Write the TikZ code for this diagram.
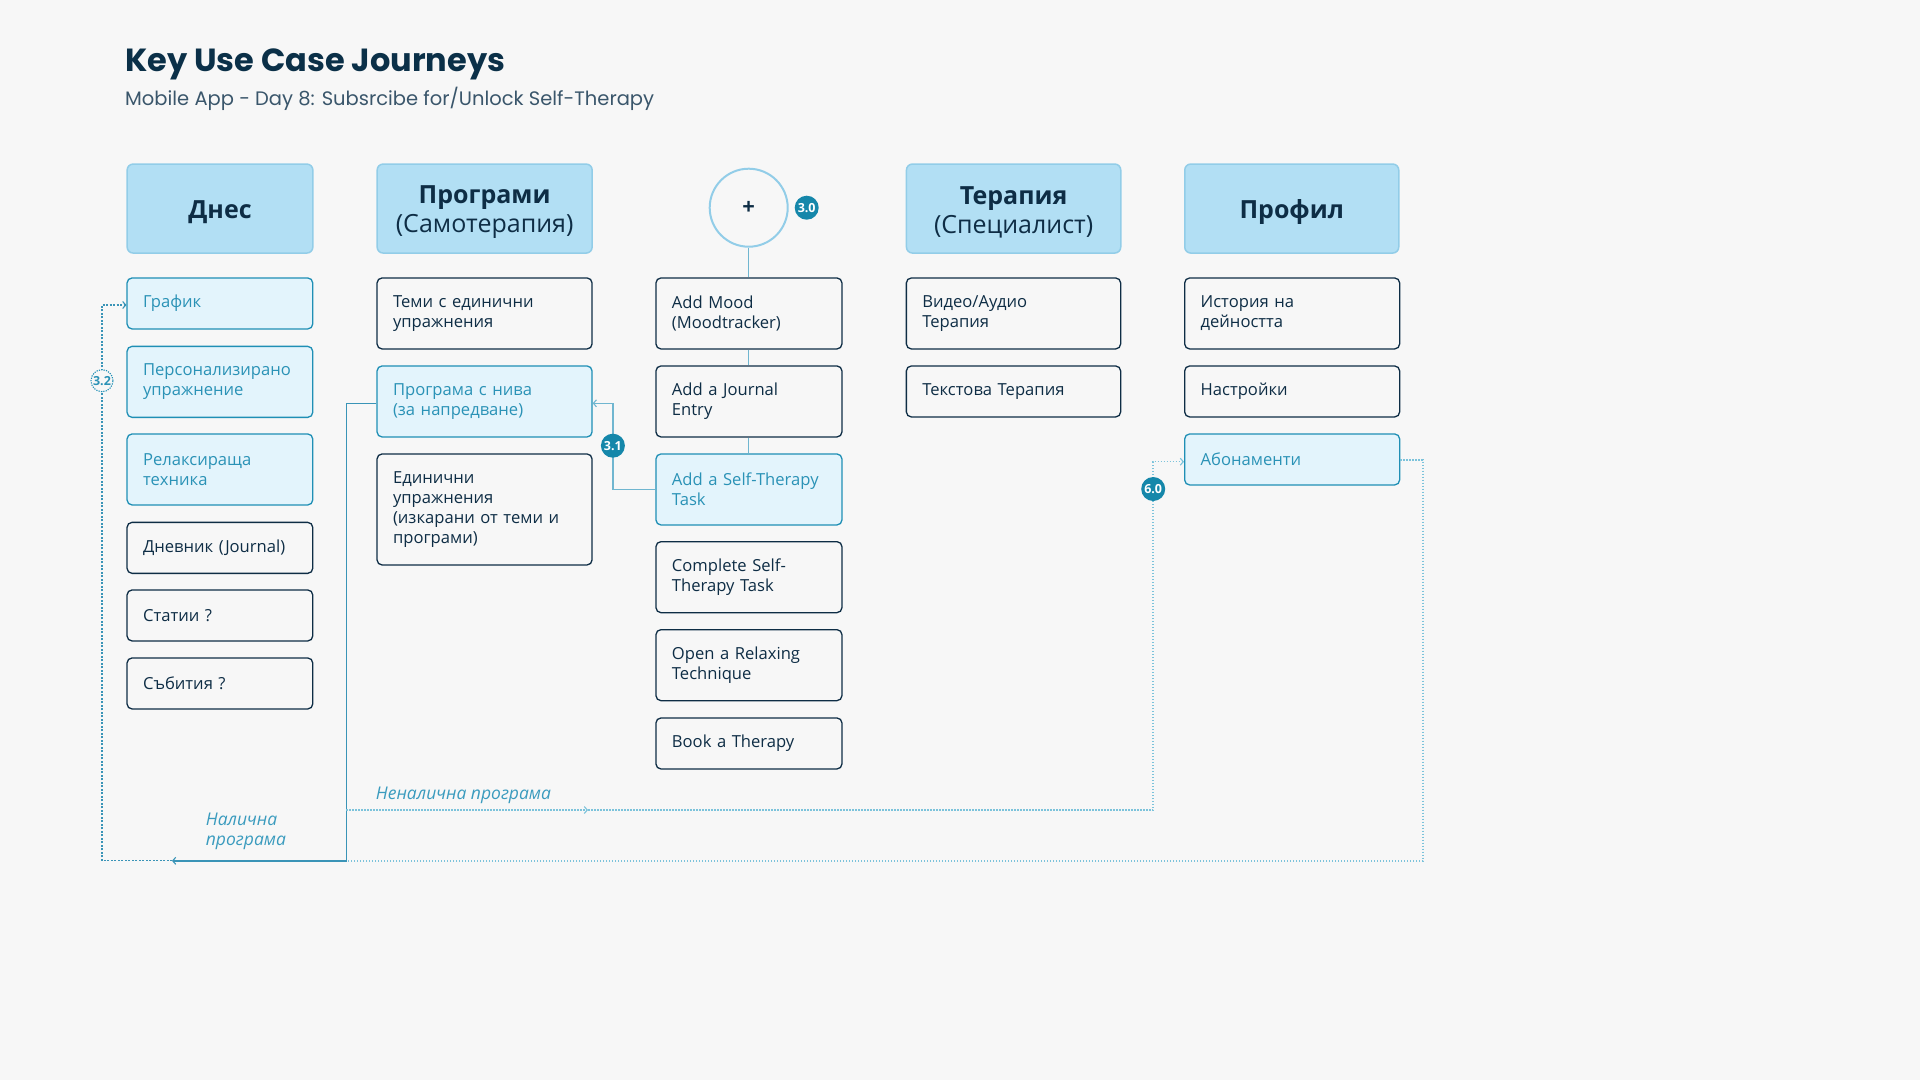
\documentclass[tikz,border=0pt]{standalone}
\usepackage{fontspec}
\setmainfont{Open Sans}
\newfontfamily\titlefont{Poppins}
\usetikzlibrary{arrows.meta}
\definecolor{bg}{HTML}{F7F7F7}
\definecolor{navy}{HTML}{0E2D45}
\definecolor{titlec}{HTML}{0B3048}
\definecolor{subc}{HTML}{3A566B}
\definecolor{hdrfill}{HTML}{B2DFF4}
\definecolor{hdrline}{HTML}{92CDE8}
\definecolor{hlfill}{HTML}{E3F4FC}
\definecolor{hlline}{HTML}{1F8FB5}
\definecolor{hltext}{HTML}{2A92B6}
\definecolor{badgec}{HTML}{1587AA}
\definecolor{connc}{HTML}{70B6D0}
\definecolor{solidc}{HTML}{3A94B7}
\definecolor{dotc}{HTML}{7CC3DB}
\definecolor{lblc}{HTML}{3A9BBE}
\tikzset{
  box/.style={draw=navy, line width=1.3pt, rounded corners=5pt, fill=bg, text=navy,
    font=\fontsize{16.6}{20}\selectfont, align=left, inner xsep=16pt, inner ysep=0pt, anchor=north west},
  hl/.style={fill=hlfill, draw=hlline, text=hltext},
  cA/.style={text width=153.7pt},
  cB/.style={text width=183pt},
  cC/.style={text width=154pt},
  cD/.style={text width=182.3pt},
  cE/.style={text width=183pt},
  hdr/.style={draw=hdrline, fill=hdrfill, line width=1.5pt, rounded corners=6pt,
    inner sep=0pt, minimum height=89pt, anchor=north west},
  hdrtxt/.style={text=navy, font=\fontsize{25}{29}\selectfont, align=center, inner sep=0pt},
  badge/.style={circle, fill=badgec, text=white, font=\bfseries\fontsize{12.5}{14}\selectfont, inner sep=0pt, minimum size=24pt},
  conn/.style={draw=connc, line width=1.5pt},
  solidconn/.style={draw=solidc, line width=1.5pt},
  dashconn/.style={draw=solidc, line width=1.2pt, dash pattern=on 2pt off 1.5pt},
  dotconn/.style={draw=dotc, line width=1.5pt, dash pattern=on 1.5pt off 1.5pt},
  tip/.tip={Straight Barb[length=3pt,width=7pt,line width=1.1pt]},
  lbl/.style={text=lblc, font=\itshape\fontsize{17.5}{20}\selectfont, inner sep=0pt}
}
\begin{document}
\begin{tikzpicture}[x=1pt,y=-1pt]
\path[fill=bg] (0,0) rectangle (1920,1080);
% title
\node[anchor=base west, font=\titlefont\bfseries\fontsize{32}{36}\selectfont, text=titlec, inner sep=0pt] (title) at (125,71) {Key Use Case Journeys};
\node[anchor=base west, font=\titlefont\fontsize{19.5}{24}\selectfont, text=subc, inner sep=0pt] (subtitle) at (125,105.7) {Mobile App - Day 8: Subsrcibe for/Unlock Self-Therapy};
% headers
\node[hdr, minimum width=185.7pt] (h1) at (126.4,163.3) {};
\node[hdrtxt] (h1t) at ([yshift=-3.5pt]h1.center) {\textbf{Днес}};
\node[hdr, minimum width=215pt] (h2) at (376.4,163.3) {};
\node[hdrtxt] (h2t) at ([yshift=-3.5pt]h2.center) {\textbf{Програми}\\(Самотерапия)};
\node[circle, draw=hdrline, line width=2pt, fill=bg, minimum size=78pt, inner sep=0pt, text=navy, font=\bfseries\fontsize{22}{22}\selectfont] (plus) at (748.7,207.7) {+};
\node[hdr, minimum width=214.3pt] (h4) at (905.7,163.3) {};
\node[hdrtxt] (h4t) at ([yshift=-3.5pt]h4.center) {\textbf{Терапия}\\(Специалист)};
\node[hdr, minimum width=214pt] (h5) at (1184,163.3) {};
\node[hdrtxt] (h5t) at ([yshift=-3.5pt]h5.center) {\textbf{Профил}};
% column 1
\node[box,hl,cA,minimum height=51pt] (grafik) at (126.4,277.3) {График};
\node[box,hl,cA,minimum height=71pt] (pers) at (126.4,345.7) {Персонализирано\\упражнение};
\node[box,hl,cA,minimum height=71pt] (relax) at (126.4,433.3) {Релаксираща\\техника};
\node[box,cA,minimum height=51pt] (dnevnik) at (126.4,521.7) {Дневник (Journal)};
\node[box,cA,minimum height=51pt] (statii) at (126.4,589.3) {Статии ?};
\node[box,cA,minimum height=51pt] (sabitia) at (126.4,657.3) {Събития ?};
% column 2
\node[box,cB,minimum height=71pt] (temi) at (376.4,277.3) {Теми с единични\\упражнения};
\node[box,hl,cB,minimum height=71pt] (progniva) at (376.4,365.3) {Програма с нива\\(за напредване)};
\node[box,cB,minimum height=111pt] (edinichni) at (376.4,453.3) {Единични\\упражнения\\(изкарани от теми и\\програми)};
% column 3
\node[box,cC,minimum height=71pt] (mood) at (655.3,277.3) {Add Mood\\(Moodtracker)};
\node[box,cC,minimum height=71pt] (journal) at (655.3,365.3) {Add a Journal\\Entry};
\node[box,hl,cC,minimum height=71pt] (selftask) at (655.3,453.3) {Add a Self-Therapy\\Task};
\node[box,cC,minimum height=71pt] (complete) at (655.3,541) {Complete Self-\\Therapy Task};
\node[box,cC,minimum height=71pt] (relaxing) at (655.3,629) {Open a Relaxing\\Technique};
\node[box,cC,minimum height=51pt] (book) at (655.3,717.3) {Book a Therapy};
% column 4
\node[box,cD,minimum height=71pt] (video) at (905.7,277.3) {Видео/Аудио\\Терапия};
\node[box,cD,minimum height=51pt] (tekst) at (905.7,365.3) {Текстова Терапия};
% column 5
\node[box,cE,minimum height=71pt] (istoria) at (1184,277.3) {История на\\дейността};
\node[box,cE,minimum height=51pt] (nastroiki) at (1184,365.3) {Настройки};
\node[box,hl,cE,minimum height=51pt] (abon) at (1184,433.3) {Абонаменти};
% coordinates
\coordinate (c31) at (612.9,403.3);
\coordinate (pl) at (346.4,403.3);
\coordinate (pb) at (346.4,860.8);
\coordinate (arr) at (172,860.8);
\coordinate (lb) at (102,860.8);
\coordinate (lt) at (102,305);
\coordinate (n0) at (346.4,810);
\coordinate (nm) at (588,810);
\coordinate (n1) at (1153.2,810);
\coordinate (n2) at (1153.2,461.7);
\coordinate (a1) at (1422.8,460);
\coordinate (a2) at (1422.8,860.8);
% connectors
\draw[conn] (plus.south) -- (plus.south |- mood.north);
\draw[conn] (mood.south -| plus.south) -- (journal.north -| plus.south);
\draw[conn] (journal.south -| plus.south) -- (selftask.north -| plus.south);
\draw[conn,-tip] (selftask.west) -| (c31) -- (c31 -| progniva.east);
\draw[solidconn,-tip] (progniva.west |- pl) -- (pl) -- (pb) -- (arr);
\draw[dashconn,-tip] (arr) -- (lb) -- (lt) -- (lt -| grafik.west);
\draw[dotconn,-tip] (n0) -- (nm);
\draw[dotconn,-tip] (nm) -- (n1) -- (n2) -- (n2 -| abon.west);
\draw[dotconn] (abon.east |- a1) -- (a1) -- (a2) -- (pb);
% labels
\node[lbl, anchor=west] (nenal) at (375.7,795) {Неналична програма};
\node[lbl, anchor=west, align=left] (nal) at (205.7,831.7) {Налична\\програма};
% badges
\node[badge] (b30) at (806.7,207.7) {3.0};
\node[badge] (b31) at (612.9,445.7) {3.1};
\node[badge] (b60) at (1153.2,489) {6.0};
\node[circle, fill=bg, draw=hlline, line width=1.1pt, dash pattern=on 1.2pt off 1.2pt, text=hltext, font=\bfseries\fontsize{12.5}{14}\selectfont, inner sep=0pt, minimum size=22pt] (b32) at (102,380.7) {3.2};
\end{tikzpicture}
\end{document}
